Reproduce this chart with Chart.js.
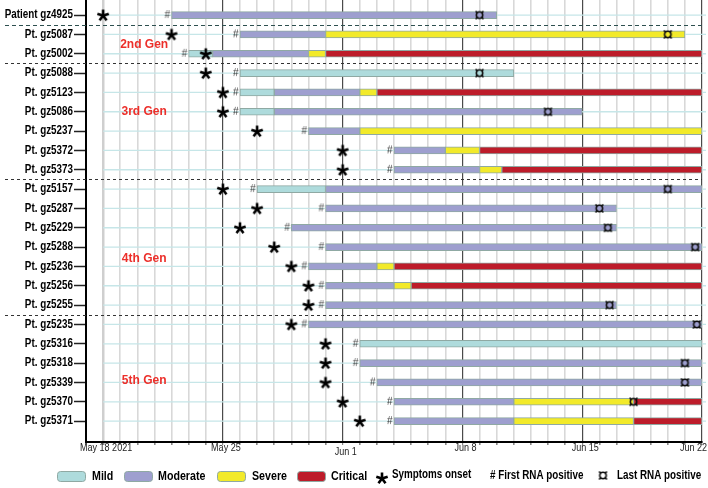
<!DOCTYPE html>
<html>
<head>
<meta charset="utf-8">
<script src="https://cdn.jsdelivr.net/npm/chart.js@4.4.0/dist/chart.umd.min.js"></script>
<style>
  body { margin: 0; background: #fff; }
  #caja { width: 708px; height: 488px; }
</style>
</head>
<body>
<div id="caja"><canvas id="grafico"></canvas></div>
<script>
// dias contados desde May 18 2021 (= 0)
var pacientes = ['Patient gz4925', 'Pt. gz5087', 'Pt. gz5002', 'Pt. gz5088', 'Pt. gz5123', 'Pt. gz5086',
    'Pt. gz5237', 'Pt. gz5372', 'Pt. gz5373', 'Pt. gz5157', 'Pt. gz5287', 'Pt. gz5229', 'Pt. gz5288',
    'Pt. gz5236', 'Pt. gz5256', 'Pt. gz5255', 'Pt. gz5235', 'Pt. gz5316', 'Pt. gz5318', 'Pt. gz5339',
    'Pt. gz5370', 'Pt. gz5371'];
var inicioSintomas = [0, 4, 6, 6, 7, 7, 9, 14, 14, 7, 9, 8, 10, 11, 12, 12, 11, 13, 13, 13, 14, 15];
var primerPositivo = [4, 8, 5, 8, 8, 8, 12, 17, 17, 9, 13, 11, 13, 12, 13, 13, 12, 15, 15, 16, 17, 17];
var ultimoPositivo = [22, 33, null, 22, null, 26, null, null, null, 33, 29, 29.5, 34.6, null, null, 29.6,
    34.7, null, 34, 34, 31, null];
var leve = [null, null, [5, 6.4], [8, 24], [8, 10], [8, 10], null, null, null, [9, 13], null, null, null,
    null, null, null, null, [15, 35], null, null, null, null];
var moderado = [[4, 23], [8, 13], [6.4, 12], null, [10, 15], [10, 28], [12, 15], [17, 20], [17, 22], [13, 35],
    [13, 30], [11, 30], [13, 35], [12, 16], [13, 17], [13, 30], [12, 35], null, [15, 35], [16, 35], [17, 24], [17, 24]];
var severo = [null, [13, 34], [12, 13], null, [15, 16], null, [15, 35], [20, 22], [22, 23.3], null, null, null,
    null, [16, 17], [17, 18], null, null, null, null, null, [24, 31], [24, 31]];
var critico = [null, null, [13, 35], null, [16, 35], null, null, [22, 35], [23.3, 35], null, null, null, null,
    [17, 35], [18, 35], null, null, null, null, null, [31, 35], [31, 35]];
var diasEtiqueta = [0, 7, 14, 21, 28, 35];
var textosEtiqueta = ['May 18 2021', 'May 25', 'Jun 1', 'Jun 8', 'Jun 15', 'Jun 22'];
var generaciones = ['2nd Gen', '3rd Gen', '4th Gen', '5th Gen'];
var filaGeneracion = [1.55, 5, 12.6, 18.9];
var separadores = [0.5, 2.5, 8.5, 15.5];

var colores = ['#aedbdc', '#9e9fcf', '#f2ea2a', '#bd1c2a'];
var borde = '#8fa9a3';
var fuente = '"Liberation Sans", Arial, sans-serif';

function tramos(arr) {
    var out = [];
    for (var i in arr) {
        if (arr[i]) out.push({x: arr[i], y: +i});
    }
    return out;
}
function puntos(arr) {
    var out = [];
    for (var i in arr) {
        if (arr[i] !== null) out.push({x: arr[i], y: +i});
    }
    return out;
}

// texto estrecho (Arial Narrow no esta instalada)
function estrecho(ctx, txt, x, y, align, font, color) {
    ctx.save();
    ctx.font = font;
    ctx.fillStyle = color;
    ctx.textBaseline = 'middle';
    ctx.textAlign = align;
    ctx.translate(x, y);
    ctx.scale(0.82, 1);
    ctx.fillText(txt, 0, 0);
    ctx.restore();
}

function lienzoEstrella() {
    var c = document.createElement('canvas');
    c.width = 16; c.height = 16;
    var g = c.getContext('2d');
    g.translate(8, 8.5);
    g.strokeStyle = '#000';
    g.lineWidth = 2.6;
    for (var k = 0; k < 5; k++) {
        var a = -Math.PI / 2 + k * 2 * Math.PI / 5;
        g.beginPath();
        g.moveTo(0, 0);
        g.lineTo(Math.cos(a) * 6, Math.sin(a) * 6);
        g.stroke();
    }
    return c;
}
function lienzoGato() {
    var c = document.createElement('canvas');
    c.width = 20; c.height = 14;
    var g = c.getContext('2d');
    g.font = '10px ' + fuente;
    g.fillStyle = '#333';
    g.textAlign = 'right';
    g.textBaseline = 'middle';
    g.fillText('#', 8.5, 7);
    return c;
}
function lienzoUltimo() {
    var c = document.createElement('canvas');
    c.width = 13; c.height = 13;
    var g = c.getContext('2d');
    g.translate(6.5, 6.5);
    g.strokeStyle = '#111';
    g.lineWidth = 1.6;
    g.beginPath();
    g.arc(0, 0, 3.2, 0, 2 * Math.PI);
    g.stroke();
    for (var k = 0; k < 4; k++) {
        var a = Math.PI / 4 + k * Math.PI / 2;
        g.beginPath();
        g.moveTo(Math.cos(a) * 3, Math.sin(a) * 3);
        g.lineTo(Math.cos(a) * 5.6, Math.sin(a) * 5.6);
        g.stroke();
    }
    return c;
}
var estrella = lienzoEstrella();
var gato = lienzoGato();
var ultimo = lienzoUltimo();

function barra(label, arr, color) {
    return {
        type: 'bar', label: label, indexAxis: 'y', data: tramos(arr),
        backgroundColor: color, borderColor: borde, borderWidth: 1, borderSkipped: false,
        barThickness: 7, grouped: false, order: 2
    };
}
function marca(label, arr, img) {
    return {
        type: 'scatter', label: label, data: puntos(arr),
        pointStyle: img, pointRadius: 4, order: 1
    };
}

var extras = {
    id: 'extras',
    beforeDatasetsDraw: function(chart) {
        var ctx = chart.ctx, xs = chart.scales.x, ys = chart.scales.y;
        ctx.save();
        ctx.strokeStyle = '#c6e6e8';
        ctx.lineWidth = 1.3;
        for (var i = 0; i < pacientes.length; i++) {
            var y = ys.getPixelForValue(i);
            ctx.beginPath();
            ctx.moveTo(xs.getPixelForValue(0), y);
            ctx.lineTo(chart.chartArea.right + 4, y);
            ctx.stroke();
        }
        ctx.restore();
    },
    afterDatasetsDraw: function(chart) {
        var ctx = chart.ctx, xs = chart.scales.x, ys = chart.scales.y;
        ctx.save();
        for (var s = 0; s < separadores.length; s++) {
            var y = Math.round(ys.getPixelForValue(separadores[s])) + 0.5;
            ctx.strokeStyle = s === 0 ? '#2d4f4f' : '#333';
            ctx.lineWidth = 1;
            ctx.setLineDash(s === 0 ? [4, 3] : [3, 3]);
            ctx.beginPath();
            ctx.moveTo(5, y);
            ctx.lineTo(chart.chartArea.right, y);
            ctx.stroke();
        }
        ctx.setLineDash([]);
        ctx.fillStyle = '#ec2f2a';
        ctx.font = 'bold 12px ' + fuente;
        ctx.textAlign = 'center';
        ctx.textBaseline = 'middle';
        for (var k = 0; k < generaciones.length; k++) {
            ctx.fillText(generaciones[k], xs.getPixelForValue(2.4), ys.getPixelForValue(filaGeneracion[k]));
        }
        ctx.restore();

        // etiquetas de los ejes
        for (var i = 0; i < pacientes.length; i++) {
            estrecho(ctx, pacientes[i], 73, ys.getPixelForValue(i), 'right', 'bold 12px ' + fuente, '#000');
        }
        for (var j = 0; j < diasEtiqueta.length; j++) {
            var px = xs.getPixelForValue(diasEtiqueta[j]);
            var last = j === diasEtiqueta.length - 1;
            estrecho(ctx, textosEtiqueta[j], last ? 707 : px + 3, chart.chartArea.bottom + (j === 2 ? 10 : 6),
                last ? 'right' : 'center', '11px ' + fuente, '#222');
        }
    },
    afterDraw: function(chart) {
        var ctx = chart.ctx;
        var y = 476;
        var cajas = [57, 124, 217, 297];
        var textos = [92, 158, 252, 331];
        var nombres = ['Mild', 'Moderate', 'Severe', 'Critical'];
        for (var k = 0; k < 4; k++) {
            ctx.save();
            ctx.beginPath();
            ctx.roundRect(cajas[k] + 0.5, y - 5 + 0.5, 28, 10, 3);
            ctx.fillStyle = colores[k];
            ctx.fill();
            ctx.strokeStyle = borde;
            ctx.lineWidth = 1;
            ctx.stroke();
            ctx.restore();
            estrecho(ctx, nombres[k], textos[k], y, 'left', 'bold 13px ' + fuente, '#000');
        }
        ctx.drawImage(estrella, 382 - 8, y - 6);
        estrecho(ctx, 'Symptoms onset', 392, y - 1, 'left', 'bold 12px ' + fuente, '#000');
        estrecho(ctx, '# First RNA positive', 490, y, 'left', 'bold 12px ' + fuente, '#000');
        ctx.drawImage(ultimo, 603 - 6.5, y - 7);
        estrecho(ctx, 'Last RNA positive', 617, y, 'left', 'bold 12px ' + fuente, '#000');
    }
};

var grafico = new Chart(document.getElementById('grafico'), {
    type: 'bar',
    data: {
        datasets: [
            marca('Symptoms onset', inicioSintomas, estrella),
            marca('First RNA positive', primerPositivo, gato),
            marca('Last RNA positive', ultimoPositivo, ultimo),
            barra('Mild', leve, colores[0]),
            barra('Moderate', moderado, colores[1]),
            barra('Severe', severo, colores[2]),
            barra('Critical', critico, colores[3])
        ]
    },
    options: {
        indexAxis: 'y',
        responsive: true,
        maintainAspectRatio: false,
        animation: false,
        events: [],
        layout: { autoPadding: false, padding: { top: 0, right: 6, bottom: 30, left: 0 } },
        plugins: { legend: { display: false }, tooltip: { enabled: false } },
        scales: {
            x: {
                type: 'linear', min: -1, max: 35, offset: false, beginAtZero: false,
                afterBuildTicks: function(s) {
                    var t = [];
                    for (var v = -1; v <= 35; v++) t.push({value: v});
                    s.ticks = t;
                },
                afterFit: function(s) { s.paddingLeft = 0; s.paddingRight = 0; s.paddingTop = 0; s.height = 16; },
                ticks: { display: false, autoSkip: false, maxRotation: 0 },
                grid: {
                    offset: false,
                    tickLength: 3,
                    tickColor: '#888',
                    color: function(c) {
                        var v = c.tick.value;
                        if (v === -1) return 'rgba(0,0,0,0)';
                        if (v === 0) return '#cfcfcf';
                        if (v % 7 === 0) return '#4a4a4a';
                        return '#d8d8d8';
                    },
                    lineWidth: function(c) {
                        var v = c.tick.value;
                        if (v === 0) return 2.5;
                        if (v % 7 === 0) return 1.2;
                        return 1.6;
                    }
                },
                border: { color: '#000', width: 2 }
            },
            y: {
                type: 'linear', reverse: true, min: -0.78, max: 22.08, offset: false,
                afterBuildTicks: function(s) {
                    s.ticks = pacientes.map(function(n, i) { return {value: i}; });
                },
                afterFit: function(s) { s.width = 86; s.paddingTop = 0; s.paddingBottom = 0; },
                ticks: { display: false, autoSkip: false },
                grid: { offset: false, drawOnChartArea: false, tickLength: 12, tickColor: '#222', tickWidth: 1.5 },
                border: { color: '#000', width: 2 }
            }
        }
    },
    plugins: [extras]
});
</script>
</body>
</html>
